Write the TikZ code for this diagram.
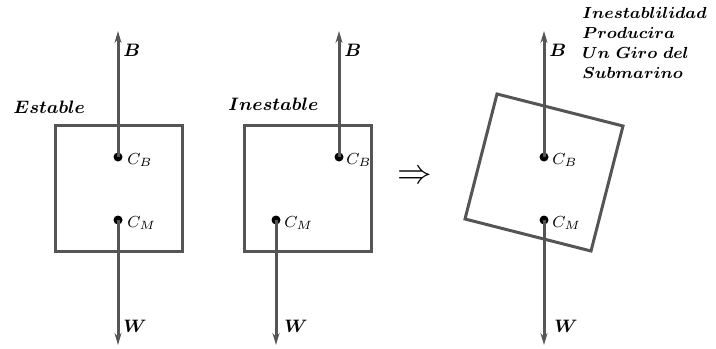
\documentclass[tikz,border=0pt]{standalone}
\usepackage{amsmath,bm}
\usetikzlibrary{arrows.meta}
\definecolor{gris}{RGB}{85,85,85}
\tikzset{
  casco/.style={draw=gris, line width=1.5pt},
  fuerza/.style={draw=gris, line width=1.5pt, -{Stealth[length=6pt,width=3.5pt]}},
  punto/.style={circle, fill=black, inner sep=0pt, minimum size=4.5pt},
  etiq/.style={inner sep=0pt, font=\footnotesize},
  vector/.style={inner sep=0pt, font=\fontsize{9.5}{10}\selectfont},
  titulo/.style={inner sep=0pt, font=\fontsize{8.6}{10}\selectfont},
}
\begin{document}
\begin{tikzpicture}[x=0.5pt,y=-0.5pt]
  \useasboundingbox (0,0) rectangle (716,348);
  % estable
  \draw [casco] (55,125) rectangle (182,251);
  \node [punto] (cb1) at (118,157) {};
  \node [punto] (cm1) at (118,220) {};
  \coordinate (b1) at (118,31);
  \coordinate (w1) at (118,345);
  \draw [fuerza] (cb1.center) -- (b1);
  \draw [fuerza] (cm1.center) -- (w1);
  \node [etiq, anchor=west] (lcb1) at (127,160) {$C_B$};
  \node [etiq, anchor=west] (lcm1) at (127,223) {$C_M$};
  \node [vector, anchor=base west] (fb1) at (123,56) {$\bm{B}$};
  \node [vector, anchor=base west] (fw1) at (123,332) {$\bm{W}$};
  \node [titulo, anchor=base west] (t1) at (13,113) {$\bm{Estable}$};
  % inestable
  \draw [casco] (244,125) rectangle (371,251);
  \node [punto] (cb2) at (339,157) {};
  \node [punto] (cm2) at (276,220) {};
  \coordinate (b2) at (339,31);
  \coordinate (w2) at (276,345);
  \draw [fuerza] (cb2.center) -- (b2);
  \draw [fuerza] (cm2.center) -- (w2);
  \node [etiq, anchor=west] (lcb2) at (346,160) {$C_B$};
  \node [etiq, anchor=west] (lcm2) at (284,223) {$C_M$};
  \node [vector, anchor=base west] (fb2) at (344,56) {$\bm{B}$};
  \node [vector, anchor=base west] (fw2) at (284,332) {$\bm{W}$};
  \node [titulo, anchor=base west] (t2) at (228,110) {$\bm{Inestable}$};
  \node [inner sep=0pt] (impl) at (415,177) {\LARGE$\Rightarrow$};
  % giro
  \draw [casco] (497,94) -- (623,126) -- (591,251) -- (465,219) -- cycle;
  \node [punto] (cb3) at (544,157) {};
  \node [punto] (cm3) at (544,220) {};
  \coordinate (b3) at (544,31);
  \coordinate (w3) at (544,345);
  \draw [fuerza] (cb3.center) -- (b3);
  \draw [fuerza] (cm3.center) -- (w3);
  \node [etiq, anchor=west] (lcb3) at (552,160) {$C_B$};
  \node [etiq, anchor=west] (lcm3) at (552,223) {$C_M$};
  \node [vector, anchor=base west] (fb3) at (549,56) {$\bm{B}$};
  \node [vector, anchor=base west] (fw3) at (554,332) {$\bm{W}$};
  \node [titulo, font=\fontsize{8.3}{10}\selectfont, anchor=north west, align=left] (t3) at (582,7)
    {$\bm{Inestablilidad}$\\ $\bm{Producira}$\\ $\bm{Un\ Giro\ del}$\\ $\bm{Submarino}$};
\end{tikzpicture}
\end{document}
